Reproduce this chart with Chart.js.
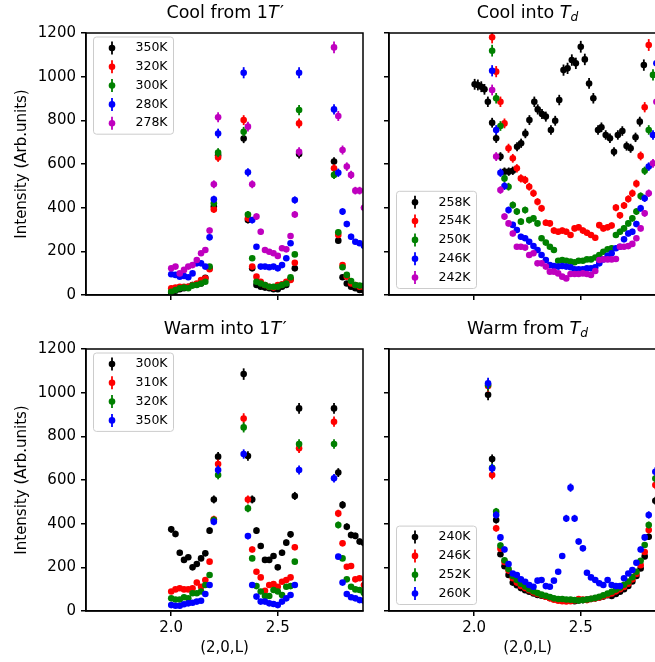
<!DOCTYPE html>
<html>
<head>
<meta charset="utf-8">
<script src="https://cdn.jsdelivr.net/npm/chart.js@4.4.1/dist/chart.umd.min.js"></script>
<style>
  html, body { margin: 0; padding: 0; background: #fff; }
  #fig { position: relative; width: 655px; height: 662px; overflow: hidden; }
  canvas { position: absolute; }
</style>
</head>
<body>
<div id="fig">
  <canvas id="tl" width="370" height="320" style="left:0;top:0"></canvas>
  <canvas id="tr" width="290" height="320" style="left:380px;top:0"></canvas>
  <canvas id="bl" width="370" height="342" style="left:0;top:320px"></canvas>
  <canvas id="br" width="290" height="342" style="left:380px;top:320px"></canvas>
</div>
<script>
const FONT = "'DejaVu Sans', sans-serif";
Chart.defaults.font.family = FONT;
Chart.defaults.color = "#000";

const COLORS = ["#000000", "#ff0000", "#008000", "#0000ff", "#bf00bf"];
const X_TICKS = [2.0, 2.5];
const Y_TICKS = [0, 200, 400, 600, 800, 1000, 1200];
const ERR_K = 0.8; // counting statistics, err = ERR_K * sqrt(I)

// ---- Cool from 1T' / Warm into 1T'  (three measured L windows)
const L_1T = [2.00, 2.02, 2.04, 2.06, 2.08, 2.10, 2.12, 2.14, 2.16, 2.18, 2.20, 2.22,
  2.34, 2.36, 2.38, 2.40, 2.42, 2.44, 2.46, 2.48, 2.50, 2.52, 2.54, 2.56, 2.58, 2.60,
  2.764, 2.784, 2.804, 2.824, 2.844, 2.864, 2.884, 2.904];

const coolFromLabels = ["350K", "320K", "300K", "280K", "278K"];
const cool350 = [11, 20, 26, 31, 38, 46, 49, 53, 79, 122, 405, 640,
  717, 343, 122, 46, 38, 34, 31, 26, 26, 38, 46, 72, 122, 646,
  611, 249, 81, 53, 38, 31, 23, 20];
const cool320 = [31, 34, 38, 38, 38, 46, 53, 69, 76, 118, 392, 630,
  801, 351, 130, 84, 61, 46, 38, 34, 46, 49, 61, 69, 148, 786,
  580, 275, 137, 84, 53, 46, 38, 35];
const cool300 = [15, 23, 31, 34, 31, 43, 46, 53, 61, 130, 420, 652,
  748, 369, 168, 61, 53, 46, 38, 38, 38, 46, 53, 81, 186, 847,
  550, 287, 127, 92, 64, 46, 43, 43];
const cool280 = [95, 92, 84, 87, 81, 99, 145, 145, 130, 264, 438, 740,
  1018, 562, 343, 221, 130, 130, 127, 130, 122, 137, 168, 237, 435, 1018,
  850, 560, 382, 325, 267, 244, 237, 224];
const cool278 = [122, 130, 99, 115, 130, 137, 160, 191, 206, 295, 507, 814,
  null, 771, 507, 359, 290, 206, 198, 191, 179, 214, 209, 270, 369, 656,
  1134, 820, 664, 588, 550, 478, 478, 400];

const warmIntoLabels = ["300K", "310K", "320K", "350K"];
const warm300 = [374, 353, 267, 234, 246, 200, 215, 241, 264, 368, 511, 707,
  1085, 710, 511, 368, 298, 234, 234, 252, 200, 267, 313, 351, 527, 928,
  928, 634, 486, 386, 348, 344, 318, 310];
const warm310 = [89, 99, 104, 99, 99, 104, 130, 111, 142, 226, 420, 673,
  882, 511, 282, 180, 154, 93, 119, 124, 111, 134, 142, 154, 292, 745,
  867, 447, 310, 203, 206, 145, 150, 119];
const warm320 = [58, 53, 53, 63, 58, 81, 81, 89, 119, 165, 417, 623,
  841, 470, 241, 114, 89, 69, 69, 96, 89, 73, 111, 114, 226, 765,
  765, 394, 241, 145, 111, 99, 96, 81];
const warm350 = [27, 24, 24, 31, 35, 38, 43, 47, 78, 119, 409, 646,
  719, 343, 119, 66, 43, 43, 35, 32, 27, 43, 58, 73, 119, 646,
  608, 249, 130, 78, 63, 58, 50, 47];

// ---- Cool into Td
const coolIntoLabels = ["258K", "254K", "250K", "246K", "242K"];
const L_258 = [2.002, 2.017, 2.033, 2.048, 2.064, 2.084, 2.103, 2.123, 2.142, 2.162,
  2.181, 2.201, 2.220, 2.240, 2.259, 2.282, 2.298, 2.318, 2.336, 2.360,
  2.380, 2.399, 2.419, 2.438, 2.458, 2.477, 2.500, 2.519, 2.539, 2.559,
  2.581, 2.597, 2.617, 2.637, 2.656, 2.674, 2.695, 2.715, 2.734, 2.757,
  2.777, 2.796];
const cool258 = [965, 962, 954, 942, 885, 789, 718, 634, 565, 565,
  569, 679, 695, 740, 801, 885, 850, 829, 817, 756,
  798, 893, 1030, 1038, 1076, 1061, 1137, 1079, 969, 901,
  756, 768, 733, 718, 656, 733, 751, 682, 672, 722,
  794, 1053];
const L_TD = [2.084, 2.103, 2.123, 2.142, 2.161, 2.181, 2.200, 2.219, 2.239, 2.258,
  2.278, 2.297, 2.316, 2.336, 2.355, 2.374, 2.394, 2.413, 2.432, 2.452,
  2.471, 2.490, 2.510, 2.529, 2.548, 2.568, 2.587, 2.606, 2.626, 2.645,
  2.665, 2.684, 2.703, 2.723, 2.742, 2.761, 2.781, 2.800, 2.819, 2.839, 2.855];
const cool254 = [1180, 1023, 885, 786, 672, 626, 580, 534, 527, 496,
  466, 427, 397, 331, 328, 295, 290, 295, 290, 275,
  305, 310, 295, 285, 275, 262, 320, 305, 310, 318,
  400, 365, 410, 440, 466, 510, 637, 860, 1145];
const cool250 = [1119, 901, 774, 534, 496, 412, 382, 336, 389, 343,
  351, 328, 260, 240, 221, 206, 157, 160, 157, 153,
  150, 157, 157, 163, 163, 172, 183, 198, 209, 214,
  275, 290, 305, 328, 351, 382, 453, 569, 756, 1008];
const cool246 = [1027, 756, 560, 499, 389, 321, 298, 267, 260, 244,
  224, 206, 183, 160, 137, 133, 130, 133, 130, 127,
  118, 118, 118, 122, 122, 127, 145, 163, 179, 191,
  214, 221, 255, 282, 290, 325, 397, 443, 588, 733, 1061];
const cool242 = [939, 634, 481, 359, 328, 282, 221, 221, 217, 183,
  191, 145, 145, 130, 107, 107, 99, 84, 76, 96,
  96, 96, 99, 96, 92, 110, 160, 163, 163, 163,
  165, 221, 221, 224, 234, 260, 305, 374, 466, 603, 885];

// ---- Warm from Td
const warmFromLabels = ["240K", "246K", "252K", "260K"];
const L_WF = [2.065, 2.084, 2.103, 2.123, 2.142, 2.161, 2.181, 2.200, 2.219, 2.239,
  2.258, 2.278, 2.297, 2.316, 2.336, 2.355, 2.374, 2.394, 2.413, 2.432,
  2.452, 2.471, 2.490, 2.510, 2.529, 2.548, 2.568, 2.587, 2.606, 2.626,
  2.645, 2.665, 2.684, 2.703, 2.723, 2.742, 2.761, 2.781, 2.800, 2.819, 2.850];
const warm240 = [990, 696, 417, 260, 205, 165, 130, 118, 105, 95,
  88, 80, 73, 70, 65, 60, 55, 52, 50, 48,
  47, 45, 48, 50, 52, 55, 58, 62, 66, 72,
  69, 78, 88, 100, 115, 135, 160, 195, 250, 340, 505];
const warm246 = [1030, 623, 379, 285, 225, 185, 150, 130, 115, 105,
  95, 85, 78, 72, 65, 58, 52, 47, 45, 44,
  45, 48, 55, 52, 50, 55, 58, 62, 68, 75,
  80, 90, 100, 110, 125, 145, 170, 210, 270, 371, 577];
const warm252 = [1035, 656, 455, 300, 232, 192, 160, 142, 125, 112,
  100, 90, 82, 75, 70, 64, 58, 55, 55, 53,
  52, 50, 48, 50, 53, 56, 60, 65, 72, 80,
  88, 98, 108, 120, 135, 155, 180, 230, 302, 394, 607];
const warm260 = [1043, 653, 440, 337, 282, 215, 172, 165, 145, 134,
  119, 111, 139, 142, 114, 111, 139, 180, 252, 424,
  565, 424, 318, 287, 175, 154, 142, 127, 119, 142,
  119, 114, 114, 150, 172, 188, 221, 282, 337, 440, 638];

// ---------------------------------------------------------------------------

const errorBars = {
  id: "errorBars",
  beforeDatasetDraw(chart, args) {
    const { ctx, chartArea: a, scales: { y } } = chart;
    const ds = chart.data.datasets[args.index];
    ctx.save();
    ctx.beginPath();
    ctx.rect(a.left, a.top, a.right - a.left, a.bottom - a.top);
    ctx.clip();
    ctx.strokeStyle = ds.backgroundColor;
    ctx.lineWidth = 1.8;
    args.meta.data.forEach((p, i) => {
      const v = ds.data[i].y;
      const e = ERR_K * Math.sqrt(v);
      ctx.beginPath();
      ctx.moveTo(p.x, y.getPixelForValue(v + e));
      ctx.lineTo(p.x, y.getPixelForValue(v - e));
      ctx.stroke();
    });
    ctx.restore();
  },
};

const frame = {
  id: "frame",
  afterDatasetsDraw(chart) {
    const { ctx, chartArea: a } = chart;
    ctx.save();
    ctx.strokeStyle = "#000";
    ctx.lineWidth = 1.5;
    ctx.strokeRect(a.left, a.top, a.right - a.left, a.bottom - a.top);
    ctx.restore();
  },
};

const boxLegend = {
  id: "boxLegend",
  afterDraw(chart, args, o) {
    const { ctx, chartArea: a } = chart;
    const items = chart.data.datasets;
    const rowH = 18.8, padV = 11, w = 80;
    const h = padV * 2 + rowH * (items.length - 1);
    const x0 = a.left + 7.5;
    const y0 = o.corner === "top" ? a.top + 4 : a.bottom - 6.5 - h;
    ctx.save();
    ctx.fillStyle = "rgba(255,255,255,0.8)";
    ctx.strokeStyle = "#cccccc";
    ctx.lineWidth = 1;
    ctx.beginPath();
    ctx.roundRect(x0, y0, w, h, 3);
    ctx.fill();
    ctx.stroke();
    ctx.font = "12.5px " + FONT;
    ctx.textBaseline = "middle";
    items.forEach((ds, i) => {
      const cy = y0 + padV + i * rowH, mx = x0 + 18.5;
      ctx.strokeStyle = ds.backgroundColor;
      ctx.lineWidth = 1.8;
      ctx.beginPath();
      ctx.moveTo(mx, cy - 6.5);
      ctx.lineTo(mx, cy + 6.5);
      ctx.stroke();
      ctx.fillStyle = ds.backgroundColor;
      ctx.beginPath();
      ctx.arc(mx, cy, 3.3, 0, Math.PI * 2);
      ctx.fill();
      ctx.fillStyle = "#000";
      ctx.fillText(ds.label, x0 + 42, cy);
    });
    ctx.restore();
  },
};

const richTitle = {
  id: "richTitle",
  afterDraw(chart, args, o) {
    const { ctx, chartArea: a } = chart;
    const size = 17.5;
    const fontFor = (p) => (p.italic ? "italic " : "") + (p.sub ? size * 0.7 : size) + "px " + FONT;
    ctx.save();
    let total = 0;
    o.parts.forEach((p) => { ctx.font = fontFor(p); total += ctx.measureText(p.text).width; });
    let x = (a.left + a.right) / 2 - total / 2;
    const y = a.top - 20;
    ctx.fillStyle = "#000";
    ctx.textBaseline = "middle";
    ctx.textAlign = "left";
    o.parts.forEach((p) => {
      ctx.font = fontFor(p);
      ctx.fillText(p.text, x, y + (p.sub ? size * 0.3 : 0));
      x += ctx.measureText(p.text).width + (p.gap || 0);
    });
    ctx.restore();
  },
};

function series(L, ys, label, color, i) {
  return {
    label,
    data: L.map((x, k) => ({ x, y: ys[k] })).filter((p) => p.y != null),
    backgroundColor: color,
    borderColor: color,
    pointRadius: 3.3,
    pointBorderWidth: 0,
    pointHoverRadius: 3.3,
    clip: 0,
    order: -i,
  };
}

function panel(id, datasets, cfg) {
  const axisGrid = { display: true, drawOnChartArea: false, drawTicks: true, tickLength: 5, color: "#000", lineWidth: 1.5 };
  const axisBorder = { display: true, color: "#000", width: 1.5 };
  return new Chart(document.getElementById(id), {
    type: "scatter",
    data: { datasets },
    plugins: [errorBars, frame, boxLegend, richTitle],
    options: {
      responsive: false, animation: false, devicePixelRatio: 1, events: [],
      layout: { padding: cfg.padding },
      scales: {
        x: {
          type: "linear", min: 1.6, max: 2.9,
          afterBuildTicks: (s) => { s.ticks = X_TICKS.map((v) => ({ value: v })); },
          afterFit: (s) => { s.height = cfg.xH; },
          ticks: { display: cfg.xLabels, font: { size: 15 }, padding: 3, callback: (v) => v.toFixed(1) },
          grid: axisGrid, border: axisBorder,
          title: { display: cfg.xLabels, text: "(2,0,L)", font: { size: 15 }, padding: { top: 0, bottom: 5 } },
        },
        y: {
          type: "linear", min: 0, max: 1200,
          afterBuildTicks: (s) => { s.ticks = Y_TICKS.map((v) => ({ value: v })); },
          afterFit: (s) => { s.width = cfg.yW; },
          ticks: { display: cfg.yLabels, font: { size: 15 }, padding: 5, callback: (v) => String(v) },
          grid: axisGrid, border: axisBorder,
          title: { display: cfg.yLabels, text: "Intensity (Arb.units)", font: { size: 15 }, padding: { top: 13, bottom: 0 } },
        },
      },
      plugins: {
        legend: { display: false },
        tooltip: { enabled: false },
        boxLegend: { corner: cfg.legend },
        richTitle: { parts: cfg.title },
      },
    },
  });
}

panel("tl", [
  series(L_1T, cool350, coolFromLabels[0], COLORS[0], 0),
  series(L_1T, cool320, coolFromLabels[1], COLORS[1], 1),
  series(L_1T, cool300, coolFromLabels[2], COLORS[2], 2),
  series(L_1T, cool280, coolFromLabels[3], COLORS[3], 3),
  series(L_1T, cool278, coolFromLabels[4], COLORS[4], 4),
], {
  padding: { left: 0, top: 33, right: 7, bottom: 0 }, yW: 86, xH: 25,
  xLabels: false, yLabels: true, legend: "top",
  title: [{ text: "Cool from 1" }, { text: "T", italic: true, gap: 1.5 }, { text: "′" }],
});

panel("tr", [
  series(L_258, cool258, coolIntoLabels[0], COLORS[0], 0),
  series(L_TD, cool254, coolIntoLabels[1], COLORS[1], 1),
  series(L_TD, cool250, coolIntoLabels[2], COLORS[2], 2),
  series(L_TD, cool246, coolIntoLabels[3], COLORS[3], 3),
  series(L_TD, cool242, coolIntoLabels[4], COLORS[4], 4),
], {
  padding: { left: 0, top: 33, right: 4, bottom: 0 }, yW: 9, xH: 25,
  xLabels: false, yLabels: false, legend: "bottom",
  title: [{ text: "Cool into " }, { text: "T", italic: true }, { text: "d", italic: true, sub: true }],
});

panel("bl", [
  series(L_1T, warm300, warmIntoLabels[0], COLORS[0], 0),
  series(L_1T, warm310, warmIntoLabels[1], COLORS[1], 1),
  series(L_1T, warm320, warmIntoLabels[2], COLORS[2], 2),
  series(L_1T, warm350, warmIntoLabels[3], COLORS[3], 3),
], {
  padding: { left: 0, top: 29, right: 7, bottom: 0 }, yW: 86, xH: 51,
  xLabels: true, yLabels: true, legend: "top",
  title: [{ text: "Warm into 1" }, { text: "T", italic: true, gap: 1.5 }, { text: "′" }],
});

panel("br", [
  series(L_WF, warm240, warmFromLabels[0], COLORS[0], 0),
  series(L_WF, warm246, warmFromLabels[1], COLORS[1], 1),
  series(L_WF, warm252, warmFromLabels[2], COLORS[2], 2),
  series(L_WF, warm260, warmFromLabels[3], COLORS[3], 3),
], {
  padding: { left: 0, top: 29, right: 4, bottom: 0 }, yW: 9, xH: 51,
  xLabels: true, yLabels: false, legend: "bottom",
  title: [{ text: "Warm from " }, { text: "T", italic: true }, { text: "d", italic: true, sub: true }],
});
</script>
</body>
</html>
